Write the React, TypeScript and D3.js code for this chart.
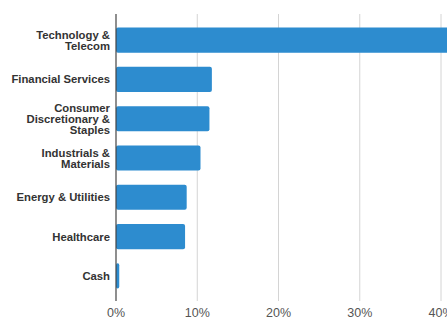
import React, { useEffect, useRef } from 'react'
import * as d3 from 'd3'

const sectors = [
  'Technology & Telecom',
  'Financial Services',
  'Consumer Discretionary & Staples',
  'Industrials & Materials',
  'Energy & Utilities',
  'Healthcare',
  'Cash',
]
// label lines as they wrap in the picture
const sectorLines = [
  ['Technology &', 'Telecom'],
  ['Financial Services'],
  ['Consumer', 'Discretionary &', 'Staples'],
  ['Industrials &', 'Materials'],
  ['Energy & Utilities'],
  ['Healthcare'],
  ['Cash'],
]
const weights = [45, 11.8, 11.5, 10.4, 8.7, 8.5, 0.4]
const ticks = [0, 10, 20, 30, 40]

const width = 447
const height = 318

const App = () => {
  const ref = useRef<SVGSVGElement>(null)

  useEffect(() => {
    const svg = d3.select(ref.current)
    svg.selectAll('*').remove()

    const x = d3.scaleLinear().domain([0, 40]).range([116, 441])
    const y = d3.scaleBand<string>()
      .domain(sectors)
      .range([20.5, 295.5])
      .paddingInner(0.36)
      .paddingOuter(0.18)

    // gridlines
    svg.append('g')
      .selectAll('line')
      .data(ticks.slice(1))
      .join('line')
      .attr('x1', d => x(d))
      .attr('x2', d => x(d))
      .attr('y1', 14)
      .attr('y2', 301)
      .attr('stroke', '#d4d4d4')
      .attr('stroke-width', 1)

    // bars
    svg.append('g')
      .selectAll('rect')
      .data(weights)
      .join('rect')
      .attr('x', x(0))
      .attr('y', (d, i) => y(sectors[i])!)
      .attr('width', d => x(d) - x(0))
      .attr('height', y.bandwidth())
      .attr('rx', 2)
      .attr('fill', '#2d8ccf')

    // axis line
    svg.append('line')
      .attr('x1', x(0))
      .attr('x2', x(0))
      .attr('y1', 14)
      .attr('y2', 301)
      .attr('stroke', '#444')
      .attr('stroke-width', 1.2)

    // category labels
    const lineH = 11
    svg.append('g')
      .selectAll('text')
      .data(sectorLines)
      .join('text')
      .attr('text-anchor', 'end')
      .attr('font-family', '"Liberation Sans", Arial, sans-serif')
      .attr('font-weight', 700)
      .attr('font-size', 11.3)
      .attr('fill', '#333')
      .attr('transform', (d, i) => {
        const cy = y(sectors[i])! + y.bandwidth() / 2
        const top = cy - ((d.length - 1) * lineH) / 2 + 4
        return `translate(110, ${top})`
      })
      .each(function (d) {
        d3.select(this)
          .selectAll('tspan')
          .data(d)
          .join('tspan')
          .attr('x', 0)
          .attr('dy', (t, j) => (j === 0 ? 0 : lineH))
          .text(t => t)
      })

    // tick labels
    svg.append('g')
      .selectAll('text')
      .data(ticks)
      .join('text')
      .attr('x', d => x(d))
      .attr('y', 317)
      .attr('text-anchor', 'middle')
      .attr('font-family', '"Liberation Sans", Arial, sans-serif')
      .attr('font-size', 12.5)
      .attr('fill', '#555')
      .text(d => d + '%')
  }, [])

  return (
    <svg
      ref={ref}
      width={width}
      height={height}
      style={{ position: 'absolute', left: 0, top: 0, background: '#fff' }}
    />
  )
}

export default App
